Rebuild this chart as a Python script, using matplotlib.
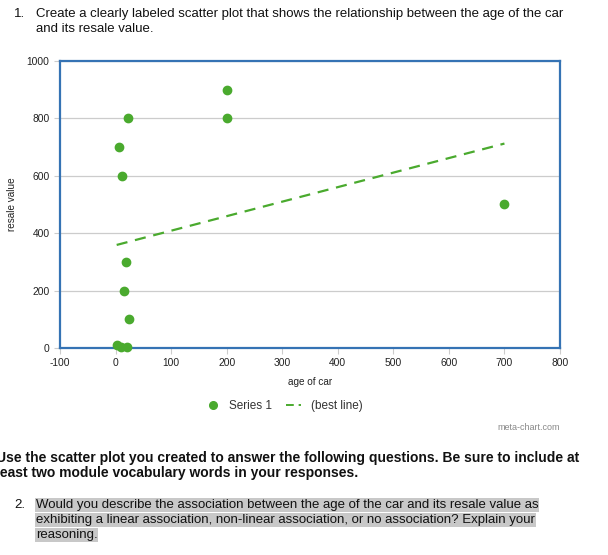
import matplotlib
matplotlib.use("Agg")
import matplotlib.pyplot as plt
from matplotlib.lines import Line2D
import numpy as np

plt.rcParams['font.family'] = ['Liberation Sans', 'DejaVu Sans']
plt.rcParams['axes.unicode_minus'] = False

# data
age = [23, 6, 11, 200, 200, 700, 18, 16, 25, 2, 10, 20]
value = [800, 700, 600, 900, 800, 500, 300, 200, 100, 10, 5, 5]
x_ticks = [-100, 0, 100, 200, 300, 400, 500, 600, 700, 800]
y_ticks = [0, 200, 400, 600, 800, 1000]

W, H = 608, 555
fig = plt.figure(figsize=(W / 100, H / 100), dpi=100)
fig.patch.set_facecolor('white')

ax = fig.add_axes([60 / W, 1 - 348 / H, 500 / W, 287 / H])
green = '#4aaa2e'
ax.scatter(age, value, s=36, color=green, zorder=3, clip_on=False)

slope, intercept = np.polyfit(age, value, 1)
xs = np.array([min(age), max(age)])
ax.plot(xs, slope * xs + intercept, color=green, lw=1.6, dashes=(5, 3.5), zorder=2)

ax.set_xlim(-100, 800)
ax.set_ylim(0, 1000)
ax.set_xticks(x_ticks)
ax.set_yticks(y_ticks)
ax.tick_params(labelsize=7.4, colors='#cccccc', labelcolor='#222222', length=4, width=0.8)
ax.grid(axis='y', color='#cccccc', lw=0.9)
ax.set_axisbelow(True)
for sp in ax.spines.values():
    sp.set_color('#3573b4')
    sp.set_linewidth(1.6)
ax.set_xlabel('age of car', fontsize=7.2, color='#222222', labelpad=6)
ax.set_ylabel('resale value', fontsize=7.2, color='#222222', labelpad=7)

handles = [Line2D([], [], ls='none', marker='o', ms=5.5, color=green),
           Line2D([], [], color=green, lw=1.4, dashes=(4, 2.5, 1.2, 2.5))]
leg = fig.legend(handles, ['Series 1', '(best line)'], loc='center',
                 bbox_to_anchor=(283 / W, 1 - 406 / H), ncol=2, frameon=False,
                 fontsize=8.5, handlelength=1.6, columnspacing=1.2, handletextpad=0.5)
for t in leg.get_texts():
    t.set_color('#333333')

fig.text(560 / W, 1 - 427 / H, 'meta-chart.com', fontsize=6.5, color='#888888', ha='right', va='center')

fs = 9.5
fig.text(14 / W, 1 - 14 / H, '1.', fontsize=fs, ha='left', va='center', color='#111111')
fig.text(36 / W, 1 - 14 / H, 'Create a clearly labeled scatter plot that shows the relationship between the age of the car',
         fontsize=fs, ha='left', va='center', color='#111111')
fig.text(36 / W, 1 - 29 / H, 'and its resale value.', fontsize=fs, ha='left', va='center', color='#111111')

fig.text(-4 / W, 1 - 458 / H, 'Use the scatter plot you created to answer the following questions. Be sure to include at',
         fontsize=10, ha='left', va='center', weight='bold', color='#111111')
fig.text(-4 / W, 1 - 473 / H, 'least two module vocabulary words in your responses.',
         fontsize=10, ha='left', va='center', weight='bold', color='#111111')

hl = dict(facecolor='#c8c8c8', edgecolor='none', pad=0.5)
fig.text(14 / W, 1 - 505 / H, '2.', fontsize=fs, ha='left', va='center', color='#111111')
fig.text(36 / W, 1 - 505 / H, 'Would you describe the association between the age of the car and its resale value as',
         fontsize=fs, ha='left', va='center', color='#111111', bbox=hl)
fig.text(36 / W, 1 - 520 / H, 'exhibiting a linear association, non-linear association, or no association? Explain your',
         fontsize=fs, ha='left', va='center', color='#111111', bbox=hl)
fig.text(36 / W, 1 - 535 / H, 'reasoning.', fontsize=fs, ha='left', va='center', color='#111111', bbox=hl)

fig.savefig('out.png', dpi=100, facecolor='white')
